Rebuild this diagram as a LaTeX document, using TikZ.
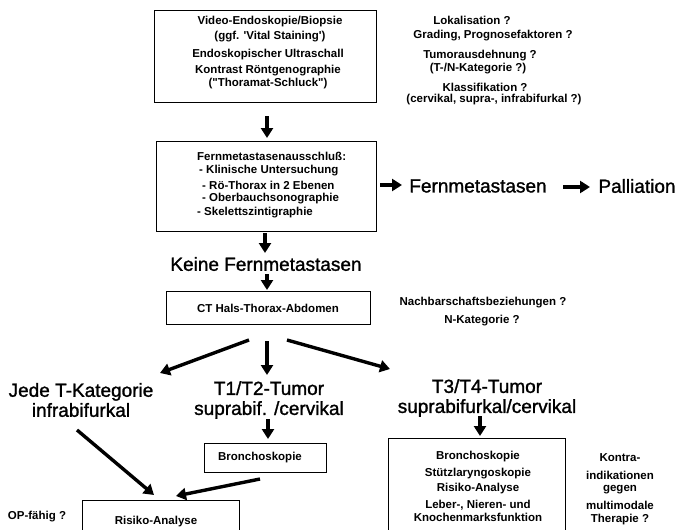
\documentclass[tikz,border=0pt]{standalone}
\usepackage{fontspec}
\setmainfont{Liberation Sans}
\newfontfamily\bigf[FakeBold=1.3]{Liberation Sans}
\usetikzlibrary{arrows.meta}
\begin{document}
\begin{tikzpicture}[x=1pt,y=-1pt,
  box/.style={draw, line width=0.9pt, inner sep=0pt},
  sm/.style={font=\fontsize{11.5}{13}\selectfont\bfseries, inner sep=0pt},
  big/.style={font=\fontsize{19}{21}\selectfont\bigf, inner sep=0pt},
  bigtwo/.style={align=center, font=\fontsize{19}{20}\selectfont\bigf, inner sep=0pt},
  arr/.style={line width=3.4pt, -{Triangle[width=12pt,length=10pt]}}]
\useasboundingbox (0,0) rectangle (689,530);
\clip (0,0) rectangle (689,530);
% boxes
\node[box, anchor=north west, minimum width=222pt, minimum height=92pt] (b1) at (154,10) {};
\node[box, anchor=north west, minimum width=220pt, minimum height=90pt] (b2) at (156,141) {};
\node[box, anchor=north west, minimum width=204pt, minimum height=33pt] (b3) at (166,291) {};
\node[box, anchor=north west, minimum width=122pt, minimum height=29pt] (b4) at (204,443) {};
\node[box, anchor=north west, minimum width=157pt, minimum height=60pt] (b5) at (82,500) {};
\node[box, anchor=north west, minimum width=177pt, minimum height=110pt] (b6) at (388,438) {};
% top box text
\node[sm] (t11) at (270,22) {Video-Endoskopie/Biopsie};
\node[sm] (t12) at (270,37) {(ggf. \textquotesingle Vital Staining\textquotesingle)};
\node[sm] (t13) at (268,55) {Endoskopischer Ultraschall};
\node[sm] (t14) at (268,71) {Kontrast Röntgenographie};
\node[sm] (t15) at (268,84) {(\textquotedbl Thoramat-Schluck\textquotedbl)};
% right questions
\node[sm] (q1) at (472,20) {Lokalisation ?};
\node[sm] (q2) at (493,36) {Grading, Prognosefaktoren ?};
\node[sm] (q3) at (480,56) {Tumorausdehnung ?};
\node[sm] (q4) at (478,69) {(T-/N-Kategorie ?)};
\node[sm] (q5) at (485,87) {Klassifikation ?};
\node[sm] (q6) at (494,100) {(cervikal, supra-, infrabifurkal ?)};
% second box text
\node[sm, anchor=west] (t21) at (197,156) {Fernmetastasenausschluß:};
\node[sm, anchor=west] (t22) at (199,171) {- Klinische Untersuchung};
\node[sm, anchor=west] (t23) at (202,185) {- Rö-Thorax in 2 Ebenen};
\node[sm, anchor=west] (t24) at (202,199) {- Oberbauchsonographie};
\node[sm, anchor=west] (t25) at (197,213) {- Skelettszintigraphie};
% big labels
\node[big] (fm) at (478,186) {Fernmetastasen};
\node[big] (pal) at (637,186) {Palliation};
\node[big] (kf) at (266,264) {Keine Fernmetastasen};
\node[bigtwo] (tj) at (81,400) {Jede T-Kategorie\\infrabifurkal};
\node[bigtwo] (t12t) at (269,400) {T1/T2-Tumor\\suprabif. /cervikal};
\node[bigtwo] (t34t) at (487,398) {T3/T4-Tumor\\suprabifurkal/cervikal};
% CT
\node[sm] (ct) at (268,308) {CT Hals-Thorax-Abdomen};
\node[sm] (n1) at (483,303) {Nachbarschaftsbeziehungen ?};
\node[sm] (n2) at (482,321) {N-Kategorie ?};
% lower
\node[sm] (br1) at (260,458) {Bronchoskopie};
\node[sm] (ra) at (156,522) {Risiko-Analyse};
\node[sm] (op) at (37,517) {OP-fähig ?};
\node[sm] (r1) at (478,457) {Bronchoskopie};
\node[sm] (r2) at (478,474) {Stützlaryngoskopie};
\node[sm] (r3) at (478,489) {Risiko-Analyse};
\node[sm] (r4) at (478,505) {Leber-, Nieren- und};
\node[sm] (r5) at (478,517) {Knochenmarksfunktion};
\node[sm] (k1) at (620,458) {Kontra-};
\node[sm] (k2) at (620,475) {indikationen};
\node[sm] (k3) at (620,490) {gegen};
\node[sm] (k4) at (620,505) {multimodale};
\node[sm] (k5) at (620,520) {Therapie ?};
% arrow coordinates
\coordinate (a1s) at (267,116); \coordinate (a1e) at (267,138);
\coordinate (a2s) at (380,185); \coordinate (a2e) at (402,185);
\coordinate (a3s) at (563,187); \coordinate (a3e) at (590,187);
\coordinate (a4s) at (265,233); \coordinate (a4e) at (265,253);
\coordinate (a5s) at (267,274); \coordinate (a5e) at (267,290);
\coordinate (a6s) at (249,340); \coordinate (a6e) at (160,373);
\coordinate (a7s) at (267,341); \coordinate (a7e) at (267,375);
\coordinate (a8s) at (287,340); \coordinate (a8e) at (390,369);
\coordinate (a9s) at (268,419); \coordinate (a9e) at (268,439);
\coordinate (a10s) at (77,430); \coordinate (a10e) at (154,495);
\coordinate (a11s) at (260,479); \coordinate (a11e) at (176,496);
\coordinate (a12s) at (480,416); \coordinate (a12e) at (480,436);
\draw[arr] (a1s) -- (a1e);
\draw[arr] (a2s) -- (a2e);
\draw[arr] (a3s) -- (a3e);
\draw[arr] (a4s) -- (a4e);
\draw[arr] (a5s) -- (a5e);
\draw[arr] (a6s) -- (a6e);
\draw[arr] (a7s) -- (a7e);
\draw[arr] (a8s) -- (a8e);
\draw[arr] (a9s) -- (a9e);
\draw[arr] (a10s) -- (a10e);
\draw[arr] (a11s) -- (a11e);
\draw[arr] (a12s) -- (a12e);
\end{tikzpicture}
\end{document}
